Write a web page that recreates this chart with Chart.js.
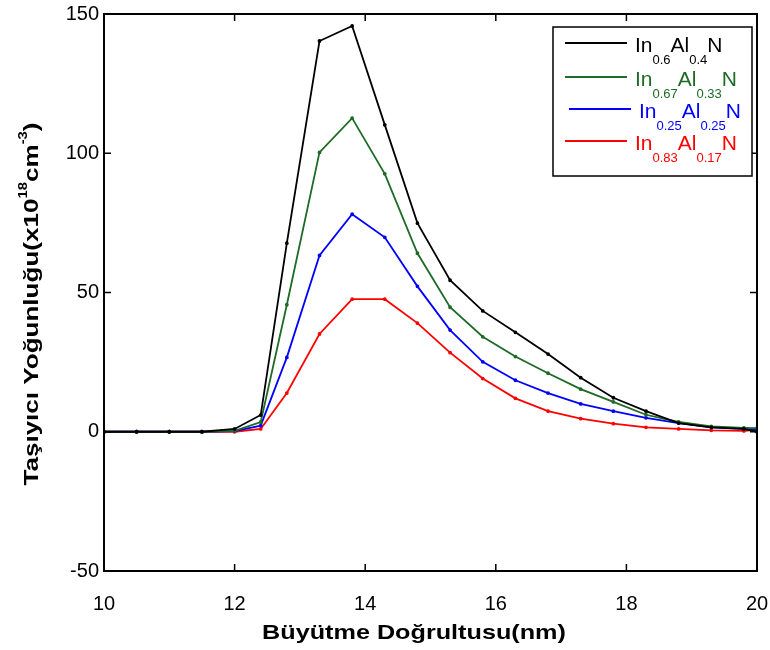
<!DOCTYPE html>
<html>
<head>
<meta charset="utf-8">
<script src="https://cdn.jsdelivr.net/npm/chart.js@4"></script>
<style>
  html, body { margin: 0; padding: 0; background: #fff; }
  #wrap { width: 770px; height: 650px; }
</style>
</head>
<body>
<div id="wrap"><canvas id="c" width="770" height="650"></canvas></div>
<script>
// values
const xs = [10, 10.5, 11, 11.5, 12, 12.4, 12.8, 13.3, 13.8, 14.3, 14.8, 15.3, 15.8, 16.3, 16.8, 17.3, 17.8, 18.3, 18.8, 19.3, 19.8, 20];
const in06 = [0, 0, 0, 0, 1.0, 6.0, 67.7, 140.3, 145.7, 110.2, 74.9, 54.4, 43.4, 35.7, 27.9, 19.4, 12.2, 7.4, 3.1, 1.6, 1.0, 0];
const in067 = [0, 0, 0, 0, 0.3, 3.5, 45.6, 100.3, 112.6, 92.6, 64.1, 44.7, 34.1, 27.0, 21.0, 15.3, 10.7, 6.1, 3.5, 1.9, 1.4, 1.3];
const in025 = [0, 0, 0, 0, 0.2, 2.2, 26.7, 63.3, 78.1, 69.8, 52.2, 36.5, 25.1, 18.5, 13.9, 10.0, 7.4, 5.0, 3.1, 1.6, 1.0, 0.8];
const in083 = [0, 0, 0, 0, 0, 1.0, 13.9, 35.1, 47.6, 47.6, 39.0, 28.4, 19.1, 12.0, 7.4, 4.7, 2.9, 1.6, 1.0, 0.5, 0.3, 0.7];
const xTicks = [10, 12, 14, 16, 18, 20];
const yTicks = [-50, 0, 50, 100, 150];

// legend entries: [text, subscript] pieces
const legendItems = [
  { color: "#000000", parts: [["In", "0.6"], ["Al", "0.4"], ["N", ""]] },
  { color: "#1d6b26", parts: [["In", "0.67"], ["Al", "0.33"], ["N", ""]] },
  { color: "#0000ff", parts: [["In", "0.25"], ["Al", "0.25"], ["N", ""]] },
  { color: "#ff0000", parts: [["In", "0.83"], ["Al", "0.17"], ["N", ""]] },
];

const FONT = "Liberation Sans, Arial, sans-serif";

function series(ys, label, color) {
  return {
    label: label,
    data: xs.map((x, i) => ({ x: x, y: ys[i] })),
    borderColor: color,
    backgroundColor: color,
    borderWidth: 1.8,
    pointRadius: 1,
    pointHoverRadius: 1,
    tension: 0,
  };
}

// frame, inward ticks, legend and axis titles
const decor = {
  id: "decor",
  afterDraw(chart) {
    const ctx = chart.ctx;
    const a = chart.chartArea;
    const xs_ = chart.scales.x, ys_ = chart.scales.y;
    ctx.save();
    ctx.strokeStyle = "#000";
    ctx.lineWidth = 2;
    ctx.strokeRect(a.left, a.top, a.right - a.left, a.bottom - a.top);
    ctx.lineWidth = 1.5;
    const tl = 7;
    ctx.beginPath();
    xTicks.forEach(v => {
      const p = xs_.getPixelForValue(v);
      ctx.moveTo(p, a.bottom); ctx.lineTo(p, a.bottom - tl);
      ctx.moveTo(p, a.top); ctx.lineTo(p, a.top + tl);
    });
    yTicks.forEach(v => {
      const p = ys_.getPixelForValue(v);
      ctx.moveTo(a.left, p); ctx.lineTo(a.left + tl, p);
      ctx.moveTo(a.right, p); ctx.lineTo(a.right - tl, p);
    });
    ctx.stroke();

    // legend box
    ctx.fillStyle = "#fff";
    ctx.fillRect(553, 27, 199, 149);
    ctx.lineWidth = 1.5;
    ctx.strokeRect(553, 27, 199, 149);
    const rows = [43, 77, 109, 141];
    legendItems.forEach((it, i) => {
      const y = rows[i];
      ctx.strokeStyle = it.color;
      ctx.lineWidth = 1.8;
      ctx.beginPath();
      ctx.moveTo(i === 2 ? 569 : 565, y);
      ctx.lineTo(i === 2 ? 631 : 627, y);
      ctx.stroke();
      ctx.fillStyle = it.color;
      ctx.textBaseline = "alphabetic";
      ctx.textAlign = "left";
      let x = i === 2 ? 639 : 635;
      it.parts.forEach(([main, sub]) => {
        ctx.font = "21px " + FONT;
        ctx.fillText(main, x, y + 9);
        x += ctx.measureText(main).width;
        if (sub) {
          ctx.font = "13px " + FONT;
          ctx.fillText(sub, x, y + 21);
          x += ctx.measureText(sub).width;
        }
      });
    });

    // x title (reference glyphs are a bit wider)
    ctx.fillStyle = "#000";
    ctx.font = "bold 21px " + FONT;
    ctx.textAlign = "center";
    ctx.save();
    ctx.translate(414, 639);
    ctx.scale(1.2, 1);
    ctx.fillText("Büyütme Doğrultusu(nm)", 0, 0);
    ctx.restore();

    // y title with superscripts
    const pieces = [
      ["Taşıyıcı Yoğunluğu(x10", false],
      ["18", true],
      ["cm", false],
      ["-3", true],
      [")", false],
    ];
    let total = 0;
    pieces.forEach(([t, sup]) => {
      ctx.font = (sup ? "bold 12px " : "bold 21px ") + FONT;
      total += ctx.measureText(t).width;
    });
    ctx.translate(38, 304);
    ctx.rotate(-Math.PI / 2);
    ctx.scale(1.24, 1);
    ctx.textAlign = "left";
    let px = -total / 2;
    pieces.forEach(([t, sup]) => {
      ctx.font = (sup ? "bold 12px " : "bold 21px ") + FONT;
      ctx.fillText(t, px, sup ? -11 : 0);
      px += ctx.measureText(t).width;
    });
    ctx.restore();
  }
};

new Chart(document.getElementById("c"), {
  type: "line",
  data: {
    datasets: [
      series(in06, "In0.6Al0.4N", "#000000"),
      series(in067, "In0.67Al0.33N", "#1d6b26"),
      series(in025, "In0.25Al0.25N", "#0000ff"),
      series(in083, "In0.83Al0.17N", "#ff0000"),
    ],
  },
  options: {
    responsive: false,
    animation: false,
    layout: { padding: { top: 14, right: 13, left: 0, bottom: 0 } },
    plugins: {
      legend: { display: false },
      tooltip: { enabled: false },
    },
    scales: {
      x: {
        type: "linear",
        min: 10,
        max: 20,
        afterBuildTicks: s => { s.ticks = xTicks.map(v => ({ value: v })); },
        afterFit: s => { s.height = 79; s.paddingLeft = 0; s.paddingRight = 0; },
        grid: { display: false, drawTicks: false },
        border: { display: false },
        ticks: { color: "#000", font: { family: FONT, size: 20 }, padding: 21, maxRotation: 0 },
      },
      y: {
        min: -50,
        max: 150,
        afterBuildTicks: s => { s.ticks = yTicks.map(v => ({ value: v })); },
        afterFit: s => { s.width = 104; s.paddingTop = 0; s.paddingBottom = 0; },
        grid: { display: false, drawTicks: false },
        border: { display: false },
        ticks: { color: "#000", font: { family: FONT, size: 20 }, padding: 5 },
      },
    },
  },
  plugins: [decor],
});
</script>
</body>
</html>
